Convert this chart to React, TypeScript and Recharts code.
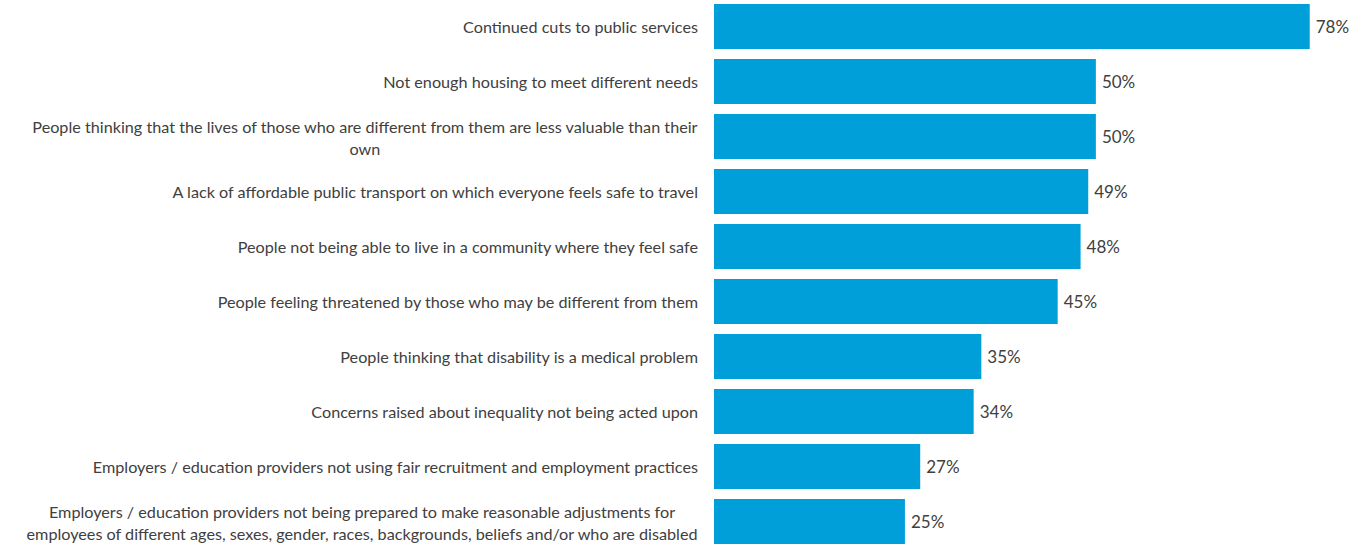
import { BarChart, Bar, XAxis, YAxis, LabelList } from 'recharts'

// survey answers, top to bottom; "\n" marks where the original label wraps
const categories = [
  'Continued cuts to public services',
  'Not enough housing to meet different needs',
  'People thinking that the lives of those who are different from them are less valuable than their\nown',
  'A lack of affordable public transport on which everyone feels safe to travel',
  'People not being able to live in a community where they feel safe',
  'People feeling threatened by those who may be different from them',
  'People thinking that disability is a medical problem',
  'Concerns raised about inequality not being acted upon',
  'Employers / education providers not using fair recruitment and employment practices',
  'Employers / education providers not being prepared to make reasonable adjustments for\nemployees of different ages, sexes, gender, races, backgrounds, beliefs and/or who are disabled',
]
const values = [78, 50, 50, 49, 48, 45, 35, 34, 27, 25]

const data = categories.map((name, i) => ({ name, value: values[i] }))

const FONT = 'Lato, sans-serif'
const LABEL_SIZE = 16.2
const LINE_HEIGHT = 22
const TEXT = '#404040'
const BAR = '#009FDA'

let ctx: CanvasRenderingContext2D | null = null
function measure(s: string) {
  if (!ctx) ctx = document.createElement('canvas').getContext('2d')
  if (!ctx) return s.length * LABEL_SIZE * 0.45
  ctx.font = `${LABEL_SIZE}px ${FONT}`
  return ctx.measureText(s).width
}

function CategoryTick(props: any) {
  const { x, y, payload } = props
  const lines = String(payload.value).split('\n')
  if (lines.length === 1) {
    return (
      <text x={x} y={y} textAnchor="end" dominantBaseline="central" fill={TEXT} fontSize={LABEL_SIZE} fontFamily={FONT}>
        {lines[0]}
      </text>
    )
  }
  // multi-line labels are centred on each other, block aligned right
  const blockW = Math.max(...lines.map(measure))
  const cx = x - blockW / 2
  const top = y - ((lines.length - 1) * LINE_HEIGHT) / 2
  return (
    <text textAnchor="middle" dominantBaseline="central" fill={TEXT} fontSize={LABEL_SIZE} fontFamily={FONT}>
      {lines.map((l, i) => (
        <tspan key={i} x={cx} y={top + i * LINE_HEIGHT}>
          {l}
        </tspan>
      ))}
    </text>
  )
}

export default function App() {
  return (
    <div style={{ position: 'fixed', left: 0, top: 0, width: 1366, height: 544, overflow: 'hidden', background: '#fff' }}>
      <div style={{ marginTop: -1 }}>
        <BarChart
          width={1366}
          height={550}
          data={data}
          layout="vertical"
          margin={{ top: 0, right: 41, bottom: 0, left: 0 }}
          barCategoryGap={5}
        >
          <XAxis type="number" domain={[0, 80]} hide />
          <YAxis
            type="category"
            dataKey="name"
            width={714}
            axisLine={false}
            tickLine={false}
            tickSize={0}
            tickMargin={16}
            interval={0}
            tick={<CategoryTick />}
          />
          <Bar dataKey="value" fill={BAR} isAnimationActive={false}>
            <LabelList
              dataKey="value"
              position="right"
              offset={6}
              formatter={(v: any) => `${v}%`}
              fill={TEXT}
              fontSize={17}
              fontFamily={FONT}
            />
          </Bar>
        </BarChart>
      </div>
    </div>
  )
}
